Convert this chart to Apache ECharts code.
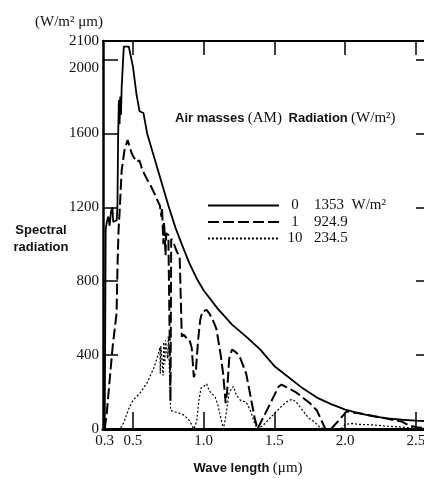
<!DOCTYPE html>
<html><head><meta charset="utf-8">
<script src="https://cdn.jsdelivr.net/npm/echarts@6/dist/echarts.min.js"></script>
<style>html,body{margin:0;padding:0;background:#fff}#c{width:424px;height:479px}</style>
</head><body><div id="c"></div>
<script>
// Axis ticks / labels
const xLabels = [0.3, 0.5, 1.0, 1.5, 2.0, 2.5];
const xTicks = [0.5, 1.0, 1.5, 2.0, 2.5];
const yLabels = [0, 400, 800, 1200, 1600, 2000, 2100];
const yTicks = [400, 800, 1200, 1600, 2000];

// Legend: air mass and radiation
const seriesNames = ['0', '1', '10'];
const legendValues = ['1353  W/m²', '924.9', '234.5'];

// AM0 spectrum [wavelength (um), W/m2 um]
const am0 = [[0.300,0],[0.304,600],[0.307,1080],[0.315,1120],[0.325,1150],[0.335,1100],[0.345,1180],[0.355,1200],[0.360,1120],[0.370,1110],[0.385,1130],[0.390,1200],[0.395,1580],[0.400,1780],[0.405,1650],[0.410,1800],[0.415,1700],[0.420,1850],[0.435,2070],[0.470,2070],[0.476,2060],[0.500,1960],[0.525,1810],[0.546,1720],[0.574,1710],[0.600,1600],[0.650,1470],[0.700,1340],[0.750,1210],[0.800,1090],[0.850,990],[0.900,895],[0.950,815],[1.000,750],[1.100,650],[1.200,565],[1.300,500],[1.400,430],[1.500,340],[1.600,280],[1.700,220],[1.800,170],[1.900,135],[2.000,105],[2.100,85],[2.200,68],[2.300,58],[2.400,50],[2.500,45],[2.570,43]];

// AM1 spectrum
const am1 = [[0.300,0],[0.314,80],[0.335,265],[0.356,444],[0.384,628],[0.391,898],[0.398,1077],[0.405,1170],[0.420,1400],[0.440,1510],[0.462,1564],[0.490,1494],[0.505,1470],[0.515,1480],[0.530,1445],[0.545,1455],[0.567,1400],[0.600,1350],[0.630,1310],[0.660,1260],[0.680,1225],[0.690,1210],[0.700,1150],[0.705,1200],[0.715,1000],[0.720,1120],[0.730,940],[0.735,1060],[0.750,1050],[0.760,1040],[0.765,150],[0.770,1030],[0.790,1000],[0.810,960],[0.830,930],[0.838,940],[0.845,500],[0.860,510],[0.880,490],[0.900,480],[0.915,440],[0.930,280],[0.945,320],[0.960,480],[0.975,590],[0.990,635],[1.020,645],[1.040,625],[1.070,580],[1.090,540],[1.120,400],[1.137,300],[1.155,140],[1.165,200],[1.180,380],[1.200,430],[1.220,420],[1.250,400],[1.280,340],[1.300,300],[1.330,180],[1.360,60],[1.380,0],[1.530,230],[1.550,240],[1.600,220],[1.650,200],[1.700,170],[1.750,140],[1.800,100],[1.830,50],[1.860,0],[1.900,0],[2.010,95],[2.050,90],[2.100,85],[2.200,70],[2.300,55],[2.400,40],[2.450,20],[2.500,10],[2.570,5]];

// AM10 spectrum
const am10 = [[0.30,0],[0.38,0],[0.40,3],[0.42,12],[0.44,45],[0.47,110],[0.50,155],[0.55,195],[0.60,250],[0.65,335],[0.68,410],[0.69,440],[0.693,300],[0.697,450],[0.71,460],[0.713,290],[0.717,470],[0.725,350],[0.73,480],[0.74,470],[0.745,380],[0.75,500],[0.763,500],[0.766,100],[0.78,90],[0.80,92],[0.83,85],[0.86,75],[0.88,60],[0.90,45],[0.92,15],[0.93,0],[0.95,40],[0.965,150],[0.98,220],[1.00,230],[1.02,245],[1.04,205],[1.06,190],[1.08,175],[1.10,130],[1.12,60],[1.14,0],[1.16,90],[1.18,200],[1.21,230],[1.23,185],[1.26,155],[1.30,145],[1.33,100],[1.36,30],[1.38,0],[1.42,20],[1.47,60],[1.52,100],[1.56,130],[1.60,155],[1.63,160],[1.66,140],[1.70,100],[1.74,60],[1.78,40],[1.82,10],[1.85,0],[1.97,0],[2.00,25],[2.05,30],[2.10,25],[2.20,22],[2.30,15],[2.40,10],[2.50,5],[2.57,3]];

const serif = '"Liberation Serif", "DejaVu Serif", serif';
const sans = '"Liberation Sans", Arial, sans-serif';
const ink = '#111';

const chart = echarts.init(document.getElementById('c'), null, {renderer: 'canvas'});

const tickStyle = {color: '#000', width: 1.5};
const xMin = 0.288, xMax = 2.571;

const option = {
  animation: false,
  backgroundColor: '#fff',
  grid: {left: 103, top: 41, width: 323, height: 388, containLabel: false, outerBoundsMode: 'none'},
  xAxis: [
    {
      type: 'value', min: xMin, max: xMax, position: 'bottom',
      axisLine: {show: true, onZero: false, lineStyle: {color: '#000', width: 3}},
      axisTick: {show: true, inside: true, length: 17, customValues: xTicks, lineStyle: tickStyle},
      axisLabel: {customValues: xLabels, formatter: v => Number(v).toFixed(1), fontFamily: serif, fontSize: 15, color: ink, margin: 5},
      splitLine: {show: false}
    },
    {
      type: 'value', min: xMin, max: xMax, position: 'top',
      axisLine: {show: true, onZero: false, lineStyle: {color: '#000', width: 2}},
      axisTick: {show: true, inside: true, length: 14, customValues: xTicks, lineStyle: tickStyle},
      axisLabel: {show: false},
      splitLine: {show: false}
    }
  ],
  yAxis: [
    {
      type: 'value', min: 0, max: 2100, position: 'left',
      axisLine: {show: true, onZero: false, lineStyle: {color: '#000', width: 2.5}},
      axisTick: {show: true, inside: true, length: 15, customValues: yTicks, lineStyle: tickStyle},
      axisLabel: {
        customValues: yLabels,
        formatter: v => (v === 2000 ? '{d|2000}' : String(v)),
        fontFamily: serif, fontSize: 15, color: ink, margin: 4,
        rich: {d: {padding: [18, 0, 0, 0], fontFamily: serif, fontSize: 15, color: ink}}
      },
      splitLine: {show: false}
    },
    {
      type: 'value', min: 0, max: 2100, position: 'right',
      axisLine: {show: true, onZero: false, lineStyle: {color: '#000', width: 2}},
      axisTick: {show: true, inside: true, length: 10, customValues: yTicks, lineStyle: tickStyle},
      axisLabel: {show: false},
      splitLine: {show: false}
    }
  ],
  legend: {
    orient: 'vertical', left: 207, top: 198, padding: 0,
    itemWidth: 71, itemHeight: 14, itemGap: 1.5,
    data: seriesNames,
    selectedMode: false,
    itemStyle: {opacity: 0, color: 'rgba(0,0,0,0)', borderWidth: 0},
    formatter: name => '{n|' + name + '}{v|' + legendValues[seriesNames.indexOf(name)] + '}',
    textStyle: {
      fontFamily: serif, fontSize: 15, color: ink, lineHeight: 14,
      rich: {
        n: {width: 22, align: 'center', fontFamily: serif, fontSize: 15, color: ink, lineHeight: 14},
        v: {padding: [0, 0, 0, 8], fontFamily: serif, fontSize: 15, color: ink, lineHeight: 14}
      }
    }
  },
  graphic: [
    {type: 'text', x: 35, y: 22, style: {text: '(W/m² μm)', font: '15px ' + serif, fill: ink, verticalAlign: 'middle', textVerticalAlign: 'middle'}},
    {type: 'text', x: 41, y: 230, style: {text: 'Spectral', font: 'bold 13px ' + sans, fill: ink, align: 'center', textAlign: 'center', verticalAlign: 'middle', textVerticalAlign: 'middle'}},
    {type: 'text', x: 41, y: 247, style: {text: 'radiation', font: 'bold 13px ' + sans, fill: ink, align: 'center', textAlign: 'center', verticalAlign: 'middle', textVerticalAlign: 'middle'}},
    {type: 'text', x: 175, y: 118, style: {
      text: '{s|Air masses} {t|(AM)}  {s|Radiation} {t|(W/m²)}',
      verticalAlign: 'middle', textVerticalAlign: 'middle',
      rich: {
        s: {fontFamily: sans, fontWeight: 'bold', fontSize: 13, fill: ink, color: ink},
        t: {fontFamily: serif, fontSize: 15, fill: ink, color: ink}
      }
    }},
    {type: 'text', x: 248, y: 468, style: {
      text: '{s|Wave length} {t|(μm)}',
      align: 'center', textAlign: 'center', verticalAlign: 'middle', textVerticalAlign: 'middle',
      rich: {
        s: {fontFamily: sans, fontWeight: 'bold', fontSize: 13, fill: ink, color: ink},
        t: {fontFamily: serif, fontSize: 15, fill: ink, color: ink}
      }
    }}
  ],
  series: [
    {name: '0', type: 'line', data: am0, symbol: 'none', silent: true, xAxisIndex: 0, yAxisIndex: 0,
     lineStyle: {color: '#000', width: 1.8, type: 'solid'}, itemStyle: {color: '#000'}},
    {name: '1', type: 'line', data: am1, symbol: 'none', silent: true, xAxisIndex: 0, yAxisIndex: 0,
     lineStyle: {color: '#000', width: 2, type: [11, 4]}, itemStyle: {color: '#000'}},
    {name: '10', type: 'line', data: am10, symbol: 'none', silent: true, xAxisIndex: 0, yAxisIndex: 0,
     lineStyle: {color: '#000', width: 1.2, type: [2, 2]}, itemStyle: {color: '#000'}}
  ]
};
chart.setOption(option);
</script>
</body></html>
